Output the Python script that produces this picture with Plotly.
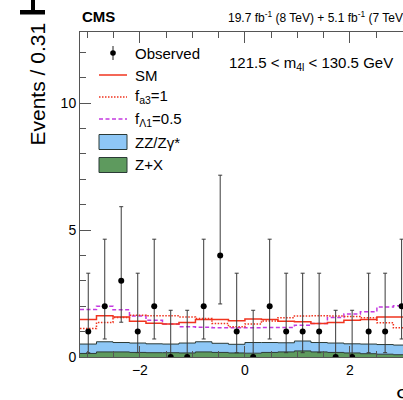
import numpy as np
import plotly.graph_objects as go

# ---------------- data ----------------
n_bins = 20
phi_min, phi_max = -np.pi, np.pi

obs = [1, 2, 3, 1, 2, 0, 0, 2, 4, 1, 0, 2, 1, 1, 1, 0, 0, 1, 1, 2]
# 68% Poisson interval limits of the observed counts
obs_lo = [0.17, 0.71, 1.37, 0.17, 0.71, 0.0, 0.0, 0.71, 2.09, 0.17,
          0.0, 0.71, 0.17, 0.17, 0.17, 0.0, 0.0, 0.17, 0.17, 0.71]
obs_hi = [3.30, 4.64, 5.92, 3.30, 4.64, 1.84, 1.84, 4.64, 7.16, 3.30,
          1.84, 4.64, 3.30, 3.30, 3.30, 1.84, 1.84, 3.30, 3.30, 4.64]

sm = [1.48, 1.62, 1.58, 1.41, 1.33, 1.30, 1.36, 1.48, 1.48, 1.43,
      1.50, 1.48, 1.41, 1.39, 1.32, 1.36, 1.45, 1.48, 1.58, 1.58]
fa3 = [1.12, 1.36, 1.56, 1.64, 1.62, 1.62, 1.58, 1.52, 1.32, 1.19,
       1.30, 1.42, 1.55, 1.61, 1.62, 1.61, 1.60, 1.55, 1.35, 1.15]
fl1 = [1.87, 2.00, 1.86, 1.61, 1.45, 1.30, 1.19, 1.17, 1.15, 1.15,
       1.15, 1.16, 1.16, 1.25, 1.32, 1.56, 1.69, 1.78, 1.97, 2.02]
zz = [0.37, 0.40, 0.37, 0.37, 0.35, 0.34, 0.39, 0.40, 0.36, 0.34,
      0.42, 0.39, 0.36, 0.39, 0.37, 0.37, 0.36, 0.38, 0.38, 0.38]
zx = [0.14, 0.20, 0.20, 0.18, 0.17, 0.17, 0.16, 0.20, 0.18, 0.16,
      0.15, 0.18, 0.20, 0.24, 0.20, 0.18, 0.16, 0.13, 0.11, 0.09]

x_ticks = [-2, 0, 2]
y_ticks = [0, 5, 10]

# ---------------- styles ----------------
FONT = "Liberation Sans, Arial, sans-serif"
RED = "#f0341f"
MAG = "#c43ae0"
BLUE = "#8ec7f6"
GREEN = "#5e9a5e"
EDGE = "#2b3a36"
AX = "#555555"
DASH = "4px,2.5px"
DOT = "1.5px,1.5px"

W, H = 403, 400
L, R, T, B = 80, 0, 32, 43
PW, PH = W - L - R, H - T - B
PX_PER_UNIT = 52.5

def px(x):
    return (x - L) / PW

def py(y):
    return (T + PH - y) / PH

edges = np.linspace(phi_min, phi_max, n_bins + 1)
centers = 0.5 * (edges[:-1] + edges[1:])

def step(v):
    return list(v) + [v[-1]]

tot = list(np.add(zx, zz))

fig = go.Figure()
fig.add_trace(go.Scatter(x=edges, y=step(zx), mode="lines",
                         line=dict(shape="hv", color=EDGE, width=1),
                         fill="tozeroy", fillcolor=GREEN, name="Z+X"))
fig.add_trace(go.Scatter(x=edges, y=step(tot), mode="lines",
                         line=dict(shape="hv", color=EDGE, width=1),
                         fill="tonexty", fillcolor=BLUE, name="ZZ/Zγ*"))
fig.add_trace(go.Scatter(x=edges, y=step(fl1), mode="lines",
                         line=dict(shape="hv", color=MAG, width=1.5, dash=DASH),
                         name="fΛ1=0.5"))
fig.add_trace(go.Scatter(x=edges, y=step(fa3), mode="lines",
                         line=dict(shape="hv", color=RED, width=1.5, dash=DOT),
                         name="fa3=1"))
fig.add_trace(go.Scatter(x=edges, y=step(sm), mode="lines",
                         line=dict(shape="hv", color=RED, width=1.5),
                         name="SM"))
fig.add_trace(go.Scatter(
    x=centers, y=obs, mode="markers",
    marker=dict(color="black", size=6),
    error_y=dict(type="data", symmetric=False,
                 array=list(np.subtract(obs_hi, obs)),
                 arrayminus=list(np.subtract(obs, obs_lo)),
                 color="#3a3a3a", thickness=1, width=2),
    name="Observed"))

axis_common = dict(showline=True, linecolor=AX, linewidth=1, ticks="inside",
                   tickcolor=AX, ticklen=11, tickwidth=1, showgrid=False,
                   zeroline=False, tickfont=dict(family=FONT, size=14, color="black"))

fig.update_xaxes(range=[phi_min, phi_min + PW / PX_PER_UNIT], tickvals=x_ticks,
                 mirror="ticks",
                 minor=dict(dtick=0.5, tick0=0, ticks="inside", ticklen=6,
                            tickcolor=AX, showgrid=False),
                 **axis_common)
fig.update_yaxes(range=[0, 12.8], tickvals=y_ticks, mirror=False,
                 minor=dict(dtick=1, tick0=0, ticks="inside", ticklen=6,
                            tickcolor=AX, showgrid=False),
                 **axis_common)

shapes = []
ann = []

# legend
leg_x0, leg_x1, mark_x, text_x = 99, 127, 113, 133
rows = [53, 75, 97, 119, 142, 165]
shapes.append(dict(type="line", xref="paper", yref="paper",
                   x0=px(mark_x), x1=px(mark_x), y0=py(rows[0] + 7), y1=py(rows[0] - 7),
                   line=dict(color="#222", width=1)))
shapes.append(dict(type="circle", xref="paper", yref="paper",
                   x0=px(mark_x - 2.8), x1=px(mark_x + 2.8),
                   y0=py(rows[0] + 2.8), y1=py(rows[0] - 2.8),
                   fillcolor="black", line=dict(color="black", width=0)))
for yy, col, dash in [(rows[1], RED, "solid"), (rows[2], RED, DOT), (rows[3], MAG, DASH)]:
    shapes.append(dict(type="line", xref="paper", yref="paper",
                       x0=px(leg_x0), x1=px(leg_x1), y0=py(yy), y1=py(yy),
                       line=dict(color=col, width=1.5, dash=dash)))
for yy, col in [(rows[4], BLUE), (rows[5], GREEN)]:
    shapes.append(dict(type="rect", xref="paper", yref="paper",
                       x0=px(leg_x0), x1=px(leg_x1), y0=py(yy + 7.5), y1=py(yy - 7.5),
                       fillcolor=col, line=dict(color=EDGE, width=1)))
labels = ["Observed", "SM", "f<sub>a3</sub>=1", "f<sub>Λ1</sub>=0.5", "ZZ/Zγ*", "Z+X"]
for yy, lab in zip(rows, labels):
    ann.append(dict(x=px(text_x), y=py(yy), xref="paper", yref="paper", text=lab,
                    showarrow=False, xanchor="left", yanchor="middle",
                    font=dict(family=FONT, size=15, color="black")))

# header texts
ann.append(dict(x=px(80), y=py(17), xref="paper", yref="paper", text="<b>CMS</b>",
                showarrow=False, xanchor="left", yanchor="middle",
                font=dict(family=FONT, size=15, color="black")))
ann.append(dict(x=px(226), y=py(17), xref="paper", yref="paper",
                text="19.7 fb<sup>-1</sup> (8 TeV) + 5.1 fb<sup>-1</sup> (7 TeV)",
                showarrow=False, xanchor="left", yanchor="middle",
                font=dict(family=FONT, size=12, color="black")))
ann.append(dict(x=px(227), y=py(63), xref="paper", yref="paper",
                text="121.5 < m<sub>4l</sub> < 130.5 GeV",
                showarrow=False, xanchor="left", yanchor="middle",
                font=dict(family=FONT, size=15, color="black")))
# axis titles
ann.append(dict(x=px(37), y=py(148), xref="paper", yref="paper",
                text="Events / 0.31", textangle=-90,
                showarrow=False, xanchor="center", yanchor="bottom",
                font=dict(family=FONT, size=21, color="black")))
ann.append(dict(x=px(394), y=py(393), xref="paper", yref="paper",
                text="Φ", showarrow=False, xanchor="left", yanchor="middle",
                font=dict(family=FONT, size=21, color="black")))

# cropped fragment at the top-left corner
shapes.append(dict(type="rect", xref="paper", yref="paper",
                   x0=px(20), x1=px(45), y0=py(14.5), y1=py(10), fillcolor="black",
                   line=dict(width=0)))
shapes.append(dict(type="rect", xref="paper", yref="paper",
                   x0=px(31), x1=px(35), y0=py(10.5), y1=py(0), fillcolor="black",
                   line=dict(width=0)))

fig.update_layout(width=W, height=H, margin=dict(l=L, r=R, t=T, b=B),
                  paper_bgcolor="white", plot_bgcolor="white", showlegend=False,
                  shapes=shapes, annotations=ann,
                  font=dict(family=FONT, color="black"))

fig.write_html("out.html")
